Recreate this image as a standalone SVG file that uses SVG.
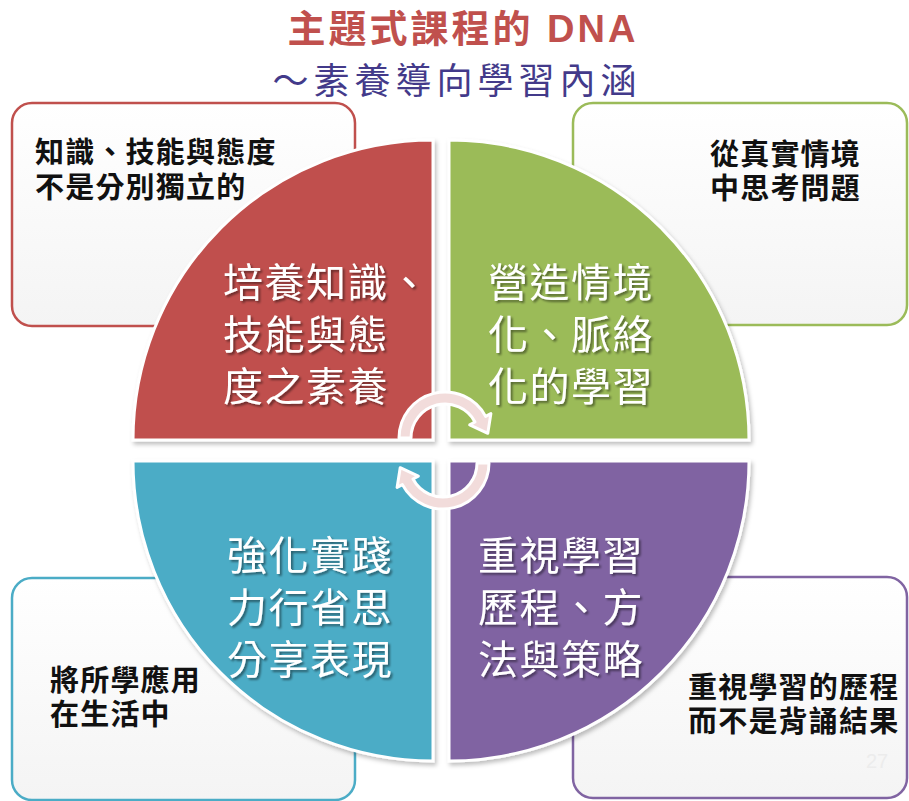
<svg xmlns="http://www.w3.org/2000/svg" width="909" height="801" viewBox="0 0 909 801">
<defs>
<style>
.box{fill:url(#boxg);stroke-width:2.5}
.bt{font-family:"Liberation Sans","Noto Sans CJK TC","Noto Sans CJK SC",sans-serif;font-size:29px;letter-spacing:1.2px;font-weight:bold;fill:#111}
.qt{font-family:"Liberation Sans","Noto Sans CJK TC","Noto Sans CJK SC",sans-serif;font-size:40px;fill:#fff;letter-spacing:1.5px;filter:url(#tsh)}
.q{stroke:#fff;stroke-width:3;filter:url(#qsh)}
.arr{fill:#f2dcdb;stroke:#fff;stroke-width:3;stroke-linejoin:round}
</style>
<linearGradient id="boxg" x1="0" y1="0" x2="0" y2="1">
<stop offset="0" stop-color="#ffffff"/>
<stop offset="1" stop-color="#f4f4f4"/>
</linearGradient>
<filter id="tsh" x="-10%" y="-10%" width="130%" height="140%">
<feDropShadow dx="2" dy="2" stdDeviation="1" flood-color="#000" flood-opacity="0.45"/>
</filter>
<filter id="qsh" x="-5%" y="-5%" width="115%" height="115%">
<feDropShadow dx="2" dy="3" stdDeviation="2" flood-color="#000" flood-opacity="0.25"/>
</filter>
</defs>
<rect width="909" height="801" fill="#fff"/>
<g id="title">
<text x="463" y="42" text-anchor="middle" font-family="'Liberation Sans','Noto Sans CJK TC','Noto Sans CJK SC',sans-serif" font-size="38" font-weight="bold" letter-spacing="3" fill="#c0504d">主題式課程的 DNA</text>
<text x="457" y="94" text-anchor="middle" font-family="'Liberation Sans','Noto Sans CJK TC','Noto Sans CJK SC',sans-serif" font-size="36" letter-spacing="5" fill="#433a8a">～素養導向學習內涵</text>
</g>
<g id="box-tl">
<rect class="box" x="12" y="103" width="343" height="223" rx="20" stroke="#c0504d"/>
<text class="bt" x="35" y="163">知識、技能與態度</text>
<text class="bt" x="35" y="198">不是分別獨立的</text>
</g>
<g id="box-tr">
<rect class="box" x="573" y="103" width="334" height="222" rx="20" stroke="#9bbb59"/>
<text class="bt" x="710" y="165">從真實情境</text>
<text class="bt" x="710" y="199">中思考問題</text>
</g>
<g id="box-bl">
<rect class="box" x="12" y="578" width="343" height="222" rx="20" stroke="#4bacc6"/>
<text class="bt" x="50" y="691">將所學應用</text>
<text class="bt" x="50" y="725">在生活中</text>
</g>
<g id="box-br">
<rect class="box" x="573" y="577" width="334" height="221" rx="20" stroke="#8064a2"/>
<text class="bt" x="688" y="698">重視學習的歷程</text>
<text class="bt" x="688" y="732">而不是背誦結果</text>
<text x="866" y="768" font-family="'Liberation Sans',sans-serif" font-size="20" fill="#ececec">27</text>
</g>
<g id="q-red">
<path class="q" fill="#c0504d" d="M433,440 L133,440 A300,300 0 0 1 433,140 Z"/>
<text class="qt" x="223" y="297">培養知識、</text>
<text class="qt" x="223" y="349">技能與態</text>
<text class="qt" x="223" y="401">度之素養</text>
</g>
<g id="q-green">
<path class="q" fill="#9bbb59" d="M449,440 L449,140 A300,300 0 0 1 749,440 Z"/>
<text class="qt" x="488" y="297">營造情境</text>
<text class="qt" x="488" y="349">化、脈絡</text>
<text class="qt" x="488" y="401">化的學習</text>
</g>
<g id="q-blue">
<path class="q" fill="#4bacc6" d="M433,461 L433,761 A300,300 0 0 1 133,461 Z"/>
<text class="qt" x="227" y="570">強化實踐</text>
<text class="qt" x="227" y="622">力行省思</text>
<text class="qt" x="227" y="674">分享表現</text>
</g>
<g id="q-purple">
<path class="q" fill="#8064a2" d="M449,461 L749,461 A300,300 0 0 1 449,761 Z"/>
<text class="qt" x="478" y="570">重視學習</text>
<text class="qt" x="478" y="622">歷程、方</text>
<text class="qt" x="478" y="674">法與策略</text>
</g>
<g id="connectors">
<path class="arr" d="M399,438 A46,46 0 0 1 485.6,416.4 L490.9,413.6 L487.8,433.3 L469.7,424.9 L475,422 A34,34 0 0 0 411,438 Z"/>
<path class="arr" d="M489,463 A46,46 0 0 1 402.4,484.6 L397.1,487.4 L400.2,467.7 L418.3,476.1 L413,479 A34,34 0 0 0 477,463 Z"/>
</g>
</svg>
